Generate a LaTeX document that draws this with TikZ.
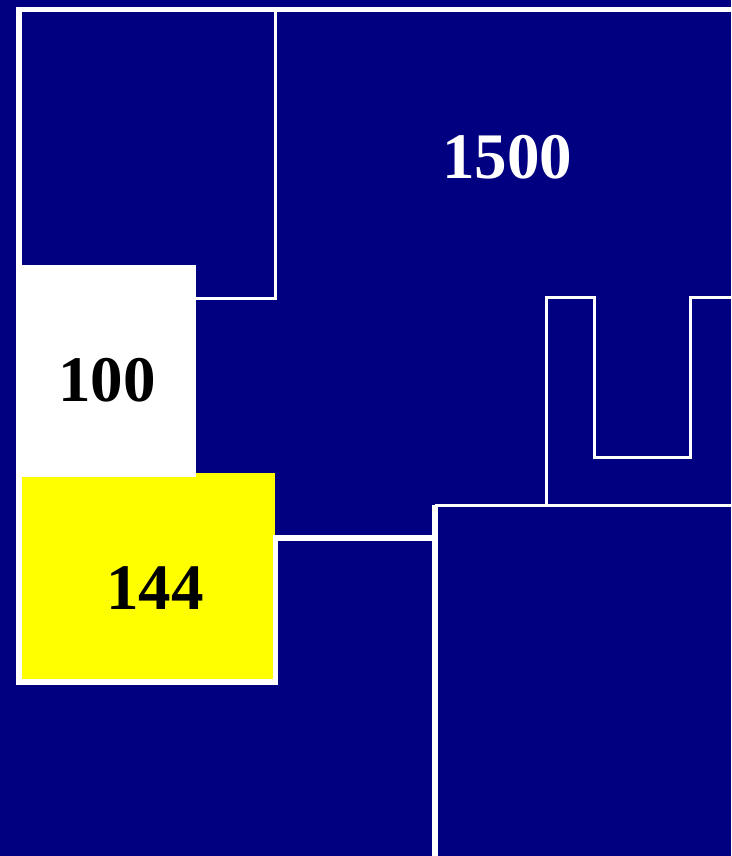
\documentclass[tikz,border=0pt]{standalone}
\usepackage{fontspec}
\setmainfont{Liberation Serif}
\definecolor{floornavy}{RGB}{0,0,128}
\definecolor{roomyellow}{RGB}{255,255,0}
\begin{document}
\begin{tikzpicture}[x=1pt, y=-1pt,
    wall/.style={white, line width=5.5pt},
    thinwall/.style={white, line width=3pt},
    area/.style={font=\fontsize{65}{65}\selectfont\bfseries, inner sep=0pt}]
  % Background
  \fill[floornavy] (0, 0) rectangle (731, 856);
  \useasboundingbox (0, 0) rectangle (731, 856);

  % Yellow and white rooms on the left
  \fill[roomyellow] (22, 473) rectangle (275, 679);
  \fill[white] (16, 265) rectangle (196, 477);

  % Thick walls
  \draw[wall] (731, 9.5) -- (16.5, 9.5);
  \draw[wall] (19, 7) -- (19, 685);
  \draw[wall] (16, 682) -- (278, 682);
  \draw[wall] (275.5, 685) -- (275.5, 538) -- (435, 538);
  \draw[wall] (435, 856) -- (435, 505);

  % Thin walls
  \draw[thinwall] (275, 9.5) -- (275, 298) -- (195, 298);
  \draw[thinwall] (435, 505.5) -- (731, 505.5);
  \draw[thinwall] (546.5, 505) -- (546.5, 297.5) -- (594.5, 297.5) -- (594.5, 457)
    -- (690.5, 457) -- (690.5, 297.5) -- (731, 297.5);

  % Labels
  \node[area, white] (big) at (507, 157) {1500};
  \node[area] (small) at (107, 380) {100};
  \node[area] (mid) at (155, 588) {144};
\end{tikzpicture}
\end{document}
